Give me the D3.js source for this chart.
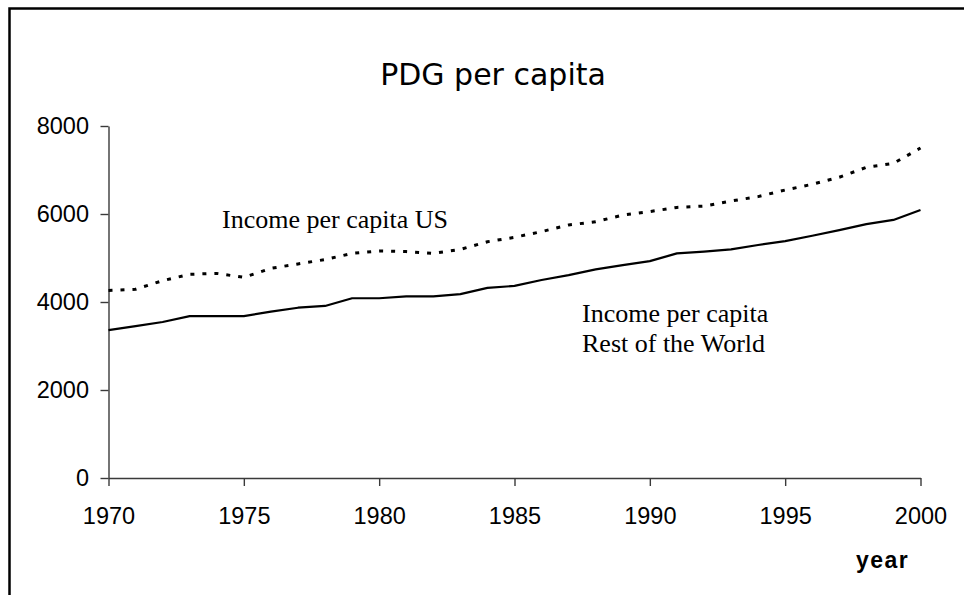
<!DOCTYPE html>
<html>
<head>
<meta charset="utf-8">
<script src="https://cdn.jsdelivr.net/npm/d3@7"></script>
<style>
  html, body { margin: 0; padding: 0; background: #fff; }
  svg { display: block; }
</style>
</head>
<body>
<svg id="chart" width="964" height="595"></svg>
<script>
// GDP per capita, 1970-2000
const years = [1970, 1971, 1972, 1973, 1974, 1975, 1976, 1977, 1978, 1979,
               1980, 1981, 1982, 1983, 1984, 1985, 1986, 1987, 1988, 1989,
               1990, 1991, 1992, 1993, 1994, 1995, 1996, 1997, 1998, 1999, 2000];
const incomeUS = [4260, 4290, 4485, 4630, 4650, 4560, 4765, 4865, 4965, 5105,
                  5160, 5145, 5105, 5195, 5370, 5470, 5600, 5750, 5825, 5975,
                  6055, 6150, 6180, 6295, 6395, 6545, 6675, 6835, 7060, 7150, 7500];
const incomeRest = [3360, 3450, 3545, 3680, 3680, 3680, 3780, 3870, 3910, 4085,
                    4085, 4130, 4130, 4180, 4320, 4365, 4500, 4610, 4740, 4840,
                    4930, 5105, 5145, 5195, 5295, 5385, 5505, 5635, 5770, 5865, 6090];
const xTicks = [1970, 1975, 1980, 1985, 1990, 1995, 2000];
const yTicks = [0, 2000, 4000, 6000, 8000];

const svg = d3.select("#chart");

// outer frame
svg.append("rect")
  .attr("x", 9.5).attr("y", 8.5)
  .attr("width", 1000).attr("height", 700)
  .attr("fill", "none").attr("stroke", "#000").attr("stroke-width", 2.5);

const x = d3.scaleLinear().domain([1970, 2000]).range([108.5, 920.5]);
const y = d3.scaleLinear().domain([0, 8000]).range([478, 126]);

const axisColor = "#3a3a3a";
const tickFont = "'Liberation Sans', Arial, sans-serif";

const gx = svg.append("g")
  .attr("transform", `translate(0,${y(0)})`)
  .call(d3.axisBottom(x).tickValues(xTicks).tickFormat(d3.format("d"))
        .tickSize(8).tickSizeOuter(0).tickPadding(21));
const gy = svg.append("g")
  .attr("transform", `translate(${x(1970)},0)`)
  .call(d3.axisLeft(y).tickValues(yTicks).tickFormat(d3.format("d"))
        .tickSize(8).tickSizeOuter(0).tickPadding(11.5));

[gx, gy].forEach(g => {
  g.select(".domain").attr("stroke", axisColor).attr("stroke-width", 1.4);
  g.selectAll(".tick line").attr("stroke", axisColor).attr("stroke-width", 1.4);
  g.selectAll(".tick text")
    .attr("fill", "#000")
    .style("font-family", tickFont)
    .style("font-size", "23.5px");
});

const line = d3.line().x((d, i) => x(years[i])).y(d => y(d));

svg.append("path")
  .datum(incomeRest)
  .attr("d", line)
  .attr("fill", "none")
  .attr("stroke", "#000")
  .attr("stroke-width", 2.2)
  .attr("stroke-linejoin", "round");

svg.append("path")
  .datum(incomeUS)
  .attr("d", line)
  .attr("fill", "none")
  .attr("stroke", "#000")
  .attr("stroke-width", 3)
  .attr("stroke-dasharray", "4,8");

// title
svg.append("text")
  .attr("x", 493).attr("y", 85)
  .attr("text-anchor", "middle")
  .style("font-family", "'DejaVu Sans', Verdana, sans-serif")
  .style("font-size", "30px")
  .text("PDG per capita");

// series labels
const serif = "'Liberation Serif', 'Times New Roman', serif";
svg.append("text")
  .attr("x", 222).attr("y", 228)
  .style("font-family", serif).style("font-size", "26px")
  .text("Income per capita US");

const rowLabel = svg.append("text")
  .style("font-family", serif).style("font-size", "26px");
rowLabel.append("tspan").attr("x", 582).attr("y", 322).text("Income per capita");
rowLabel.append("tspan").attr("x", 582).attr("y", 352).text("Rest of the World");

// axis title
svg.append("text")
  .attr("x", 856).attr("y", 568)
  .style("font-family", tickFont)
  .style("font-weight", "bold")
  .style("font-size", "23px")
  .style("letter-spacing", "1.5px")
  .text("year");
</script>
</body>
</html>
